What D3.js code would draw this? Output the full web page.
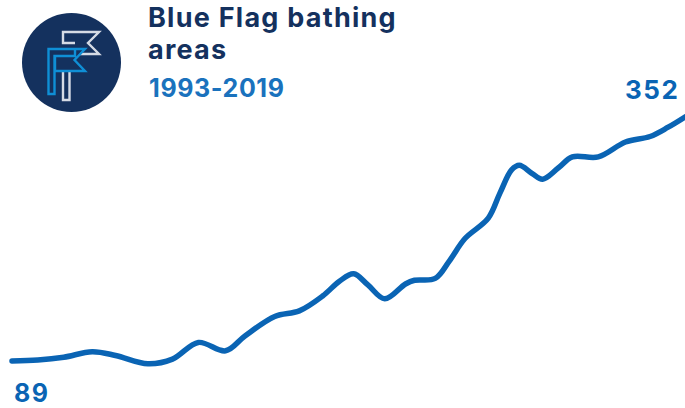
<!DOCTYPE html>
<html>
<head>
<meta charset="utf-8">
<script src="https://cdn.jsdelivr.net/npm/d3@7"></script>
<style>
  html, body { margin: 0; padding: 0; background: #fff; overflow: hidden; }
  text { font-family: Inter, "Open Sans", sans-serif; font-weight: 700; }
</style>
</head>
<body>
<svg id="chart" width="685" height="408" style="display:block"></svg>
<script>
// fractional years so the bumps land where they should
const years = [1993, 1994, 1995, 1996.1, 1997, 1998.25, 1999.2, 2000.2, 2001.25, 2002, 2003.15, 2004.1,
  2005, 2005.65, 2006.2, 2006.75, 2007.4, 2008.2, 2008.55, 2009.35, 2009.9, 2010.5, 2011.4, 2011.85,
  2012.3, 2012.6, 2013.1, 2013.5, 2014.1, 2014.65, 2015.65, 2016.7, 2017.65, 2018.35, 2019];
const areas = [89, 90, 93, 99, 95, 86, 91, 109, 100, 116, 137, 143,
  159, 175, 183, 171, 156, 172, 176, 178, 197, 221, 243, 270,
  295, 300, 291, 285, 297, 309, 309, 325, 331, 341, 352];
const titleLines = ['Blue Flag bathing', 'areas'];
const subtitle = '1993-2019';

const navy = '#14315e';
const blue = '#0a64b4';

const svg = d3.select('#chart');

const x = d3.scaleLinear().domain([1993, 2019]).range([12, 685]);
const y = d3.scaleLinear().domain([89, 352]).range([361, 117]);

const line = d3.line()
  .x((d, i) => x(years[i]))
  .y(d => y(d))
  .curve(d3.curveCatmullRom.alpha(0.5));

svg.append('path')
  .datum(areas)
  .attr('d', line)
  .attr('fill', 'none')
  .attr('stroke', blue)
  .attr('stroke-width', 5.5)
  .attr('stroke-linecap', 'round')
  .attr('stroke-linejoin', 'round');

// end labels
svg.append('text').attr('x', 14).attr('y', 402)
  .attr('font-size', 25).attr('letter-spacing', 1.5)
  .attr('fill', blue).text(areas[0]);
svg.append('text').attr('x', 625).attr('y', 99)
  .attr('font-size', 26).attr('letter-spacing', 1.5)
  .attr('fill', blue).text(areas[areas.length - 1]);

// title block
svg.selectAll('.title').data(titleLines).enter().append('text')
  .attr('class', 'title')
  .attr('x', 148)
  .attr('y', (d, i) => 27 + i * 32)
  .attr('font-size', 27)
  .attr('letter-spacing', 1.25)
  .attr('fill', navy)
  .text(d => d);
svg.append('text').attr('x', 149).attr('y', 97)
  .attr('font-size', 25).attr('letter-spacing', 0.6)
  .attr('fill', '#1a72bd').text(subtitle);

// flag icon
const icon = svg.append('g');
icon.append('circle').attr('cx', 71.5).attr('cy', 62.5).attr('r', 49.5).attr('fill', navy);
icon.append('path')
  .attr('d', 'M75 43H63V32H99L88 43L99 54H80M63 70V100H69.5V70')
  .attr('fill', 'none').attr('stroke', '#d5dbe5').attr('stroke-width', 2.4);
icon.append('path')
  .attr('d', 'M54.5 75V56H75L75 49H48.5V94H54.5V75M55 56V71H85L74.5 60L85 49H75')
  .attr('fill', 'none').attr('stroke', '#0f8fd6').attr('stroke-width', 2.4);
</script>
</body>
</html>
